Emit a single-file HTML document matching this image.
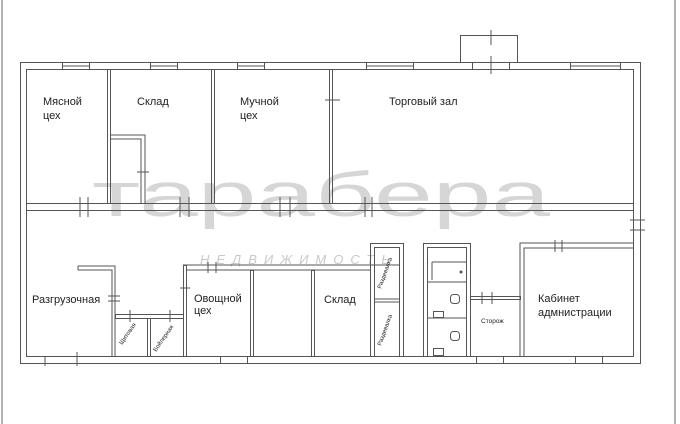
<!DOCTYPE html>
<html><head><meta charset="utf-8"><style>
html,body{margin:0;padding:0;background:#fff;}
svg{display:block;}
text{font-family:"Liberation Sans",sans-serif;fill:#222;}
</style></head><body>
<svg width="680" height="424" viewBox="0 0 680 424" xmlns="http://www.w3.org/2000/svg">
<g stroke="#999" stroke-width="1.5"><line x1="2" y1="0" x2="2" y2="424"/><line x1="675" y1="0" x2="675" y2="424"/></g>
<!-- watermark -->
<text x="92" y="216" font-size="62" textLength="458" lengthAdjust="spacingAndGlyphs" font-family="'DejaVu Sans',sans-serif" style="fill:#d6d6d6">тарабера</text>
<text x="200" y="264" font-size="13" style="fill:#c8c8c8;letter-spacing:7px;font-style:italic">НЕДВИЖИМОСТЬ</text>
<g fill="none" stroke="#555" stroke-width="1">
<rect x="20.5" y="62.5" width="620" height="301"/>
<rect x="26.5" y="69.5" width="607" height="287"/>
<rect x="460.5" y="35.5" width="57" height="27"/>
<line x1="491" y1="30" x2="491" y2="45"/><line x1="491" y1="56" x2="491" y2="74"/>
<rect x="472.5" y="62.5" width="37" height="7"/>
<rect x="62.5" y="62.5" width="27" height="7"/><rect x="150.5" y="62.5" width="27" height="7"/>
<rect x="237.5" y="62.5" width="27" height="7"/><rect x="366.5" y="62.5" width="47" height="7"/>
<rect x="570.5" y="62.5" width="50" height="7"/>
<line x1="62" y1="66" x2="90" y2="66"/><line x1="150" y1="66" x2="178" y2="66"/><line x1="237" y1="66" x2="265" y2="66"/><line x1="366" y1="66" x2="414" y2="66"/><line x1="570" y1="66" x2="621" y2="66"/>
<rect x="26.5" y="203.5" width="607" height="7"/>
<line x1="80" y1="197" x2="80" y2="217"/><line x1="88" y1="197" x2="88" y2="217"/>
<line x1="180" y1="197" x2="180" y2="217"/><line x1="189" y1="197" x2="189" y2="217"/>
<line x1="280" y1="197" x2="280" y2="217"/><line x1="290" y1="197" x2="290" y2="217"/>
<line x1="365" y1="197" x2="365" y2="217"/><line x1="372" y1="197" x2="372" y2="217"/>
<rect x="107.5" y="69.5" width="3" height="134"/>
<rect x="211.5" y="69.5" width="3" height="134"/>
<rect x="329.5" y="69.5" width="3" height="134"/>
<line x1="325" y1="100" x2="340" y2="100"/>
<polyline points="111,135 145,135 145,203"/><polyline points="111,139 141,139 141,203"/>
<line x1="137" y1="172" x2="149" y2="172"/>
<line x1="630" y1="220" x2="645" y2="220"/><line x1="630" y1="230" x2="645" y2="230"/>
<polyline points="78,266 115,266 115,356"/><polyline points="78,270 112,270 112,356"/><line x1="78" y1="266" x2="78" y2="270"/>
<line x1="108" y1="296" x2="120" y2="296"/><line x1="108" y1="301" x2="120" y2="301"/>
<rect x="115.5" y="314.5" width="68" height="4"/>
<line x1="130" y1="310" x2="130" y2="322"/><line x1="170" y1="310" x2="170" y2="322"/>
<rect x="147.5" y="318.5" width="3" height="38"/>
<rect x="183.5" y="265.5" width="3" height="91"/>
<line x1="180" y1="288" x2="190" y2="288"/>
<polyline points="183,265 400,265"/><polyline points="187,270 370,270"/>
<line x1="208" y1="262" x2="208" y2="273"/><line x1="216" y1="262" x2="216" y2="273"/>
<rect x="250.5" y="270.5" width="3" height="86"/>
<rect x="311.5" y="270.5" width="3" height="86"/>
<rect x="370.5" y="243.5" width="33" height="113"/>
<rect x="374.5" y="247.5" width="25" height="109"/>
<line x1="374" y1="299" x2="400" y2="299"/><line x1="374" y1="302" x2="400" y2="302"/>
<rect x="423.5" y="243.5" width="47" height="113"/>
<rect x="427.5" y="247.5" width="39" height="109"/>
<line x1="427" y1="282" x2="466" y2="282"/><line x1="427" y1="318" x2="466" y2="318"/>
<polyline points="432,262 466,262"/><polyline points="432,262 432,280"/>
<circle cx="461" cy="272" r="1" fill="#555"/>
<rect x="450.5" y="294.5" width="9" height="9" rx="3"/><rect x="450.5" y="331.5" width="9" height="9" rx="3"/>
<rect x="433.5" y="311.5" width="10" height="6"/><rect x="433.5" y="348.5" width="10" height="7"/>
<rect x="470.5" y="296.5" width="50" height="3"/>
<line x1="482" y1="292" x2="482" y2="304"/><line x1="492" y1="292" x2="492" y2="304"/>
<polyline points="520,356 520,243 633,243"/><polyline points="524,356 524,248 633,248"/>
<line x1="555" y1="240" x2="555" y2="252"/><line x1="562" y1="240" x2="562" y2="252"/>
<rect x="220.5" y="356.5" width="27" height="7"/><rect x="476.5" y="356.5" width="27" height="7"/><rect x="575.5" y="356.5" width="27" height="7"/>
<line x1="45" y1="356" x2="45" y2="366"/><line x1="77" y1="352" x2="77" y2="366"/>
</g>
<g font-size="11">
<text x="43" y="105">Мясной</text><text x="43" y="119">цех</text>
<text x="137" y="105">Склад</text>
<text x="240" y="105">Мучной</text><text x="240" y="119">цех</text>
<text x="389" y="105">Торговый зал</text>
<text x="32" y="303">Разгрузочная</text>
<text x="194" y="302">Овощной</text><text x="194" y="314">цех</text>
<text x="324" y="303">Склад</text>
<text x="538" y="302">Кабинет</text><text x="538" y="316">адмнистрации</text>
</g>
<text x="481" y="323" font-size="6.5">Сторож</text>
<g font-size="6">
<text transform="translate(122,345) rotate(-55)">Щитовая</text>
<text transform="translate(156,352) rotate(-55)">Бойлерная</text>
<text transform="translate(381,289) rotate(-70)">Раздевалка</text>
<text transform="translate(381,346) rotate(-70)">Раздевалка</text>
</g>
</svg>
</body></html>
